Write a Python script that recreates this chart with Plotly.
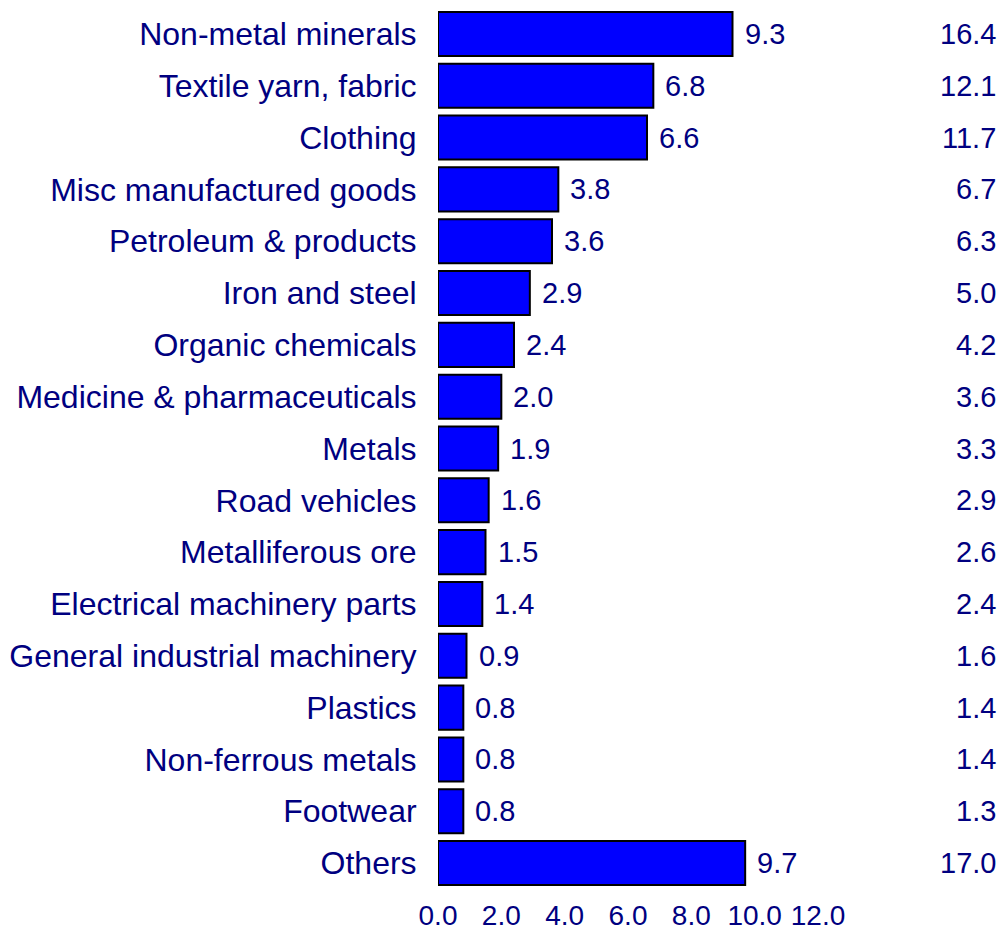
import plotly.graph_objects as go

categories = ["Non-metal minerals", "Textile yarn, fabric", "Clothing", "Misc manufactured goods",
              "Petroleum & products", "Iron and steel", "Organic chemicals",
              "Medicine & pharmaceuticals", "Metals", "Road vehicles", "Metalliferous ore",
              "Electrical machinery parts", "General industrial machinery", "Plastics",
              "Non-ferrous metals", "Footwear", "Others"]
values = [9.3, 6.8, 6.6, 3.8, 3.6, 2.9, 2.4, 2.0, 1.9, 1.6, 1.5, 1.4, 0.9, 0.8, 0.8, 0.8, 9.7]
shares = [16.4, 12.1, 11.7, 6.7, 6.3, 5.0, 4.2, 3.6, 3.3, 2.9, 2.6, 2.4, 1.6, 1.4, 1.4, 1.3, 17.0]
tick_vals = [0, 2, 4, 6, 8, 10, 12]
tick_text = ["0.0", "2.0", "4.0", "6.0", "8.0", "10.0", "12.0"]

NAVY = "#000080"
FONT = "Liberation Sans, Arial, sans-serif"
FS_CAT = 32
FS_VAL = 29
FS_TICK = 28

fig = go.Figure(go.Bar(
    x=values, y=categories, orientation="h",
    marker=dict(color="#0000FF", line=dict(color="#000000", width=2)),
    hoverinfo="skip",
))

annotations = []
for c, v, s in zip(categories, values, shares):
    annotations.append(dict(x=v, y=c, xref="x", yref="y", text=f"{v:.1f}",
                            showarrow=False, xanchor="left", xshift=10,
                            font=dict(color=NAVY, size=FS_VAL, family=FONT)))
    annotations.append(dict(x=1.4737, y=c, xref="paper", yref="y", text=f"{s:.1f}",
                            showarrow=False, xanchor="right",
                            font=dict(color=NAVY, size=FS_VAL, family=FONT)))

fig.update_layout(
    width=997, height=922,
    margin=dict(l=430, r=187, t=0, b=41, pad=0),
    paper_bgcolor="white", plot_bgcolor="white",
    bargap=0.15,
    showlegend=False,
    font=dict(family=FONT, size=FS_VAL, color=NAVY),
    annotations=annotations,
    xaxis=dict(range=[0, 12], tickvals=tick_vals, ticktext=tick_text,
               showgrid=False, zeroline=False, showline=False, automargin=False,
               ticks="outside", ticklen=1, tickcolor="rgba(0,0,0,0)",
               tickfont=dict(color=NAVY, size=FS_TICK, family=FONT)),
    yaxis=dict(categoryorder="array", categoryarray=categories, autorange="reversed",
               showgrid=False, zeroline=False, showline=False, automargin=False,
               ticks="outside", ticklen=14, tickcolor="rgba(0,0,0,0)",
               tickfont=dict(color=NAVY, size=FS_CAT, family=FONT)),
)

fig.write_html("out.html")
